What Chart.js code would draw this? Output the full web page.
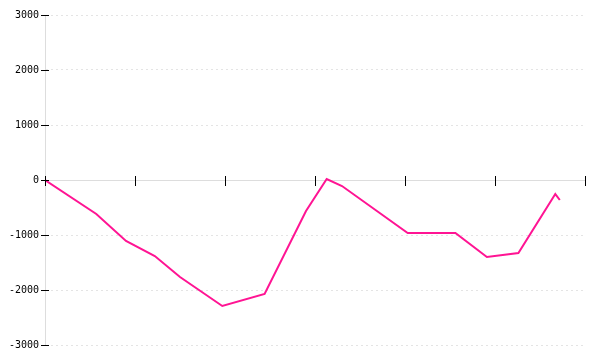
<!DOCTYPE html>
<html>
<head>
<meta charset="utf-8">
<script src="https://cdn.jsdelivr.net/npm/chart.js@4/dist/chart.umd.min.js"></script>
<style>
  html, body { margin: 0; padding: 0; background: #fff; }
  #wrap { width: 600px; height: 360px; }
</style>
</head>
<body>
<div id="wrap"><canvas id="c" width="600" height="360"></canvas></div>
<script>
// values
const xValues = [0, 5.7, 9, 12.2, 15, 19.7, 24.4, 29, 31.3, 33, 40.3, 45.6, 49.1, 52.6, 56.7, 57.2];
const yValues = [0, -618, -1109, -1382, -1764, -2291, -2073, -564, 18, -109, -964, -964, -1400, -1327, -255, -364];
const yTicks = [-3000, -2000, -1000, 0, 1000, 2000, 3000];
const xTicks = [0, 10, 20, 30, 40, 50, 60];

const points = xValues.map((x, i) => ({ x: x, y: yValues[i] }));

// tick marks crossing the axis lines
const crossTicks = {
  id: "crossTicks",
  afterDraw(chart) {
    const ctx = chart.ctx;
    const xs = chart.scales.x;
    const ys = chart.scales.y;
    const axisX = Math.round(xs.getPixelForValue(0));
    const axisY = Math.round(ys.getPixelForValue(0));
    ctx.save();
    ctx.fillStyle = "#000";
    yTicks.forEach((v) => {
      const py = Math.round(ys.getPixelForValue(v));
      ctx.fillRect(axisX - 4, py, 8, 1);
    });
    xTicks.forEach((v) => {
      const px = Math.round(xs.getPixelForValue(v));
      ctx.fillRect(px, axisY - 4, 1, 10);
    });
    ctx.restore();
  },
};

new Chart(document.getElementById("c"), {
  type: "line",
  data: {
    datasets: [
      {
        data: points,
        borderColor: "#ff1493",
        borderWidth: 2,
        pointRadius: 0,
        tension: 0,
        fill: false,
      },
    ],
  },
  options: {
    responsive: false,
    animation: false,
    layout: { padding: { top: 15, bottom: 15, right: 15, left: 0 } },
    plugins: { legend: { display: false }, tooltip: { enabled: false } },
    scales: {
      x: {
        type: "linear",
        position: { y: 0 },
        min: 0,
        max: 60,
        afterBuildTicks: (s) => { s.ticks = xTicks.map((v) => ({ value: v })); },
        ticks: { display: false },
        grid: { display: false },
        border: { display: true, color: "#dddddd", width: 1 },
      },
      y: {
        min: -3000,
        max: 3000,
        afterBuildTicks: (s) => { s.ticks = yTicks.map((v) => ({ value: v })); },
        afterFit: (s) => { s.width = 45; },
        ticks: {
          color: "#000",
          padding: 6,
          font: { family: "DejaVu Sans Mono", size: 10 },
          callback: (v) => String(v),
        },
        grid: {
          drawTicks: false,
          color: (c) => (c.tick && c.tick.value === 0 ? "rgba(0,0,0,0)" : "#e4e4e4"),
        },
        border: { display: true, color: "#dddddd", dash: [2, 3] },
      },
    },
  },
  plugins: [crossTicks],
});
</script>
</body>
</html>
